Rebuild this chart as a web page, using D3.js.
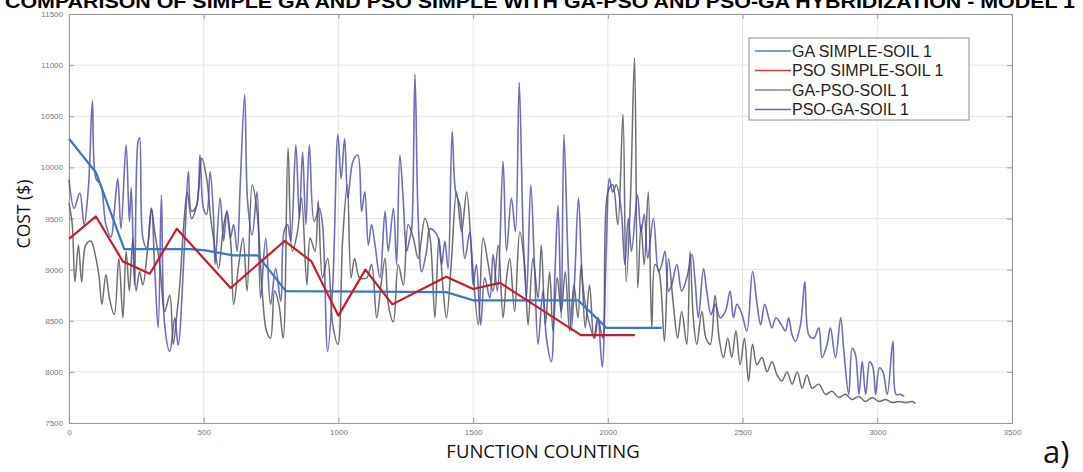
<!DOCTYPE html>
<html>
<head>
<meta charset="utf-8">
<script src="https://cdn.jsdelivr.net/npm/d3@7"></script>
<style>
  body { margin: 0; background: #fff; }
  svg { display: block; }
</style>
</head>
<body>
<div id="chart"></div>
<script>
// ticks
const xTicks = [0, 500, 1000, 1500, 2000, 2500, 3000, 3500];
const yTicks = [7500, 8000, 8500, 9000, 9500, 10000, 10500, 11000, 11500];

const seriesNames = ["GA SIMPLE-SOIL 1", "PSO SIMPLE-SOIL 1", "GA-PSO-SOIL 1", "PSO-GA-SOIL 1"];

// [function count, cost]
const gaSimple = [[0,10280],[100,9950],[205,9200],[450,9200],[500,9190],[610,9140],[700,9140],[805,8790],
  [1400,8780],[1500,8700],[1890,8700],[1995,8430],[2200,8430]];

const psoSimple = [[0,9300],[100,9520],[200,9080],[300,8960],[400,9400],[600,8820],[800,9280],[900,9080],
  [1000,8550],[1100,9000],[1200,8660],[1400,8930],[1500,8810],[1600,8870],[1900,8360],[2100,8360]];

const gaPso = [[0,9650],[12,9440],[22,8880],[35,9240],[47,8880],[62,9240],[81,9280],[100,9110],[112,8920],
  [122,8660],[137,8950],[150,8720],[168,8560],[185,9110],[200,8530],[212,9180],[224,8790],[237,9310],
  [249,8790],[262,8980],[274,8850],[293,9240],[306,9600],[318,9370],[337,9050],[355,8590],[374,8750],
  [387,8270],[399,8530],[411,8850],[426,9440],[439,9760],[455,9500],[474,9630],[493,10090],[511,9890],
  [526,9500],[536,9310],[555,9010],[571,9370],[586,9570],[601,9240],[611,8660],[630,9050],[646,9310],
  [661,8790],[680,9830],[698,9570],[717,8790],[733,8400],[748,8330],[763,8790],[779,8660],[795,8330],
  [813,10190],[829,9180],[848,9370],[863,9700],[883,8850],[895,9310],[913,9180],[925,9670],[941,8920],
  [960,9110],[979,8460],[998,8270],[1016,9310],[1033,9830],[1047,8920],[1060,9110],[1079,8920],[1105,8920],
  [1123,9050],[1142,8530],[1158,8850],[1173,9110],[1185,8660],[1204,8490],[1222,9050],[1241,8850],
  [1259,9440],[1278,9310],[1296,9110],[1321,9500],[1340,9310],[1358,8530],[1373,9310],[1389,8790],
  [1401,8530],[1420,9110],[1438,9760],[1457,9370],[1476,9760],[1494,9180],[1519,8460],[1537,9310],
  [1556,9050],[1574,8790],[1593,9240],[1611,8530],[1624,8920],[1636,9110],[1654,8590],[1673,9370],
  [1691,9050],[1704,8460],[1722,9110],[1741,8720],[1753,9240],[1768,8460],[1784,8980],[1796,8400],
  [1812,8920],[1827,8590],[1842,8980],[1858,8400],[1874,8850],[1889,8530],[1901,9050],[1916,8430],
  [1932,8850],[1948,8330],[1963,8530],[1981,8330],[2000,9760],[2018,9830],[2037,9440],[2056,10520],
  [2068,8880],[2084,9700],[2099,11070],[2111,8820],[2123,9440],[2135,9050],[2150,9760],[2163,8430],
  [2175,9050],[2190,8980],[2210,8300],[2225,9110],[2243,8660],[2259,8330],[2274,8590],[2293,8270],
  [2305,9180],[2317,8530],[2330,8270],[2349,8590],[2364,8330],[2380,8270],[2398,8750],[2413,8330],
  [2429,8140],[2445,8330],[2460,8140],[2475,8400],[2491,8070],[2507,8330],[2522,7910],[2537,8270],
  [2553,8070],[2572,8140],[2591,8000],[2609,8100],[2628,7970],[2646,7910],[2665,8000],[2684,7880],
  [2703,8000],[2721,7840],[2739,7970],[2758,7840],[2783,7880],[2808,7780],[2832,7810],[2857,7750],
  [2882,7780],[2907,7730],[2932,7760],[2956,7710],[2981,7750],[3006,7710],[3031,7730],[3056,7700],
  [3080,7710],[3105,7700],[3130,7710],[3142,7690]];

const psoGa = [[0,9880],[19,9600],[40,9750],[56,9440],[72,9800],[87,10650],[100,9890],[118,9830],[137,9440],
  [156,9320],[168,9570],[181,9890],[193,9400],[212,10220],[224,9470],[231,9800],[243,8850],[256,10250],
  [262,10290],[274,9310],[289,9210],[306,9600],[318,9010],[331,8430],[343,9730],[355,8460],[374,8200],
  [393,8530],[405,8260],[430,9310],[443,9960],[455,9570],[474,9630],[486,10120],[499,9600],[511,9540],
  [524,9960],[536,9540],[542,9050],[561,9700],[574,9280],[586,9570],[599,9310],[611,9440],[624,9180],
  [636,9860],[652,10710],[663,9660],[680,9340],[698,9760],[711,8720],[730,9310],[748,8660],[767,9010],
  [786,8690],[798,9370],[811,9440],[823,9280],[842,10220],[855,9500],[867,10150],[879,9440],[892,10220],
  [910,9470],[929,9600],[941,9440],[960,8200],[979,8850],[998,10320],[1010,9890],[1023,10280],[1035,9700],
  [1054,10060],[1072,10120],[1086,9570],[1098,9760],[1111,9240],[1123,9440],[1136,9240],[1154,8920],
  [1173,9570],[1185,9180],[1204,9600],[1216,9050],[1228,10120],[1241,9660],[1253,9180],[1265,9310],
  [1272,9400],[1284,10910],[1296,9500],[1309,8980],[1327,9180],[1340,9400],[1358,9370],[1370,9310],
  [1383,9050],[1395,9280],[1407,9010],[1422,10350],[1435,9760],[1451,9630],[1469,9110],[1488,9370],
  [1500,8850],[1512,9050],[1528,8460],[1543,8920],[1562,8720],[1574,9150],[1590,8790],[1611,10060],
  [1624,9180],[1642,9700],[1657,9370],[1671,10830],[1686,9310],[1698,8720],[1714,9830],[1728,9010],
  [1741,8270],[1759,8790],[1772,8330],[1790,8100],[1803,8920],[1815,9630],[1827,8530],[1837,10320],
  [1852,9110],[1864,8400],[1877,8920],[1891,9700],[1907,8850],[1926,8530],[1951,8330],[1963,8530],
  [1979,8050],[1994,9180],[2006,9890],[2018,9760],[2031,9830],[2049,9600],[2063,9050],[2076,9500],
  [2088,9180],[2110,9730],[2123,9370],[2135,9540],[2148,9110],[2169,9500],[2188,8980],[2200,9050],
  [2212,9180],[2225,8790],[2237,8850],[2256,9050],[2274,8790],[2293,8920],[2312,9150],[2324,8880],
  [2336,8530],[2355,9010],[2367,8790],[2383,8560],[2398,8660],[2417,8530],[2436,8590],[2454,8790],
  [2466,8530],[2479,8660],[2498,8560],[2516,8400],[2537,8980],[2554,8660],[2567,8460],[2582,8660],
  [2597,8530],[2609,8430],[2624,8530],[2644,8460],[2659,8400],[2671,8530],[2684,8360],[2696,8300],
  [2715,8460],[2731,8880],[2746,8360],[2764,8330],[2783,8430],[2795,8140],[2814,8270],[2826,8430],
  [2845,8140],[2864,8530],[2876,8200],[2894,7780],[2907,8230],[2919,8170],[2932,7780],[2944,8100],
  [2957,7780],[2972,8100],[2984,8040],[2994,7780],[3008,8040],[3021,8000],[3037,7780],[3058,8300],
  [3070,7780],[3086,7780],[3100,7760]];

const w = 1083;
const h = 472;
const margin = { top: 14, right: 71, bottom: 49, left: 69 };

const x = d3.scaleLinear().domain([0, 3500]).range([margin.left, w - margin.right]);
const y = d3.scaleLinear().domain([7500, 11500]).range([h - margin.bottom, margin.top]);

const svg = d3.select("#chart").append("svg").attr("width", w).attr("height", h);

// grid
svg.append("g")
  .selectAll("line")
  .data(xTicks)
  .enter()
  .append("line")
  .attr("x1", (d) => x(d)).attr("x2", (d) => x(d))
  .attr("y1", margin.top).attr("y2", h - margin.bottom)
  .attr("stroke", "#e6e6e6");
svg.append("g")
  .selectAll("line")
  .data(yTicks)
  .enter()
  .append("line")
  .attr("x1", margin.left).attr("x2", w - margin.right)
  .attr("y1", (d) => y(d)).attr("y2", (d) => y(d))
  .attr("stroke", "#e6e6e6");

// axes, ticks pointing inward like matlab
const styleAxis = (g) => {
  g.select(".domain").attr("stroke", "#9a9a9a");
  g.selectAll(".tick line").attr("stroke", "#9a9a9a");
  g.selectAll(".tick text").attr("fill", "#7a7a7a").attr("font-size", "8px")
    .attr("font-family", "Liberation Sans, Arial, sans-serif");
};
svg.append("g")
  .attr("transform", `translate(0,${h - margin.bottom})`)
  .call(d3.axisBottom(x).tickValues(xTicks).tickSize(-5).tickPadding(6).tickSizeOuter(0).tickFormat(d3.format("d")))
  .call(styleAxis);
svg.append("g")
  .attr("transform", `translate(${margin.left},0)`)
  .call(d3.axisLeft(y).tickValues(yTicks).tickSize(-5).tickPadding(6).tickSizeOuter(0).tickFormat(d3.format("d")))
  .call(styleAxis);
svg.append("g")
  .attr("transform", `translate(0,${margin.top})`)
  .call(d3.axisTop(x).tickValues(xTicks).tickSize(-5).tickSizeOuter(0).tickFormat(""))
  .call(styleAxis);
svg.append("g")
  .attr("transform", `translate(${w - margin.right},0)`)
  .call(d3.axisRight(y).tickValues(yTicks).tickSize(-5).tickSizeOuter(0).tickFormat(""))
  .call(styleAxis);

// lines
const straight = d3.line().x((d) => x(d[0])).y((d) => y(d[1]));
const smooth = d3.line().x((d) => x(d[0])).y((d) => y(d[1])).curve(d3.curveCatmullRom.alpha(0.5));

const series = [
  { data: gaPso, color: "#555555", width: 1.5, opacity: 0.85, line: smooth },
  { data: psoGa, color: "#4a4aa8", width: 1.6, opacity: 0.8, line: smooth },
  { data: gaSimple, color: "#3c78c0", width: 2.2, opacity: 1, line: straight },
  { data: psoSimple, color: "#c0202c", width: 2.2, opacity: 1, line: straight }
];

svg.append("g")
  .selectAll("path")
  .data(series)
  .enter()
  .append("path")
  .attr("d", (d) => d.line(d.data))
  .attr("fill", "none")
  .attr("stroke", (d) => d.color)
  .attr("stroke-width", (d) => d.width)
  .attr("stroke-opacity", (d) => d.opacity)
  .attr("stroke-linejoin", "round");

// legend
const legendColors = ["#4a80c4", "#cc3a44", "#8a8a8a", "#6a6ab8"];
const legend = svg.append("g").attr("transform", "translate(749,38)");
legend.append("rect")
  .attr("width", 220).attr("height", 82)
  .attr("fill", "#fff").attr("stroke", "#8c8c8c");
const rows = legend.selectAll("g.row")
  .data(seriesNames)
  .enter()
  .append("g")
  .attr("class", "row")
  .attr("transform", (d, i) => `translate(0,${13 + i * 19.5})`);
rows.append("line")
  .attr("x1", 6).attr("x2", 42)
  .attr("stroke", (d, i) => legendColors[i]).attr("stroke-width", 1.6);
rows.append("text")
  .attr("x", 43).attr("dy", "0.36em")
  .attr("font-family", "Liberation Sans, Arial, sans-serif")
  .attr("font-size", "16px")
  .attr("fill", "#222")
  .text((d) => d);

// titles
svg.append("text")
  .attr("x", 540).attr("y", 8)
  .attr("text-anchor", "middle")
  .attr("font-family", "Liberation Sans, Arial, sans-serif")
  .attr("font-weight", "bold")
  .attr("font-size", "18px")
  .attr("textLength", 1070)
  .attr("lengthAdjust", "spacingAndGlyphs")
  .text("COMPARISON OF SIMPLE GA AND PSO SIMPLE WITH GA-PSO AND PSO-GA HYBRIDIZATION - MODEL 1");

svg.append("text")
  .attr("x", 543).attr("y", 458)
  .attr("text-anchor", "middle")
  .attr("font-family", "Open Sans, sans-serif")
  .attr("font-size", "18.5px")
  .attr("fill", "#111")
  .text("FUNCTION COUNTING");

svg.append("text")
  .attr("transform", "translate(30,214) rotate(-90)")
  .attr("text-anchor", "middle")
  .attr("font-family", "Open Sans, sans-serif")
  .attr("font-size", "17.5px")
  .attr("fill", "#111")
  .text("COST ($)");

svg.append("text")
  .attr("x", 1043).attr("y", 463)
  .attr("font-family", "Open Sans, sans-serif")
  .attr("font-size", "31px")
  .attr("fill", "#111")
  .text("a)");
</script>
</body>
</html>
